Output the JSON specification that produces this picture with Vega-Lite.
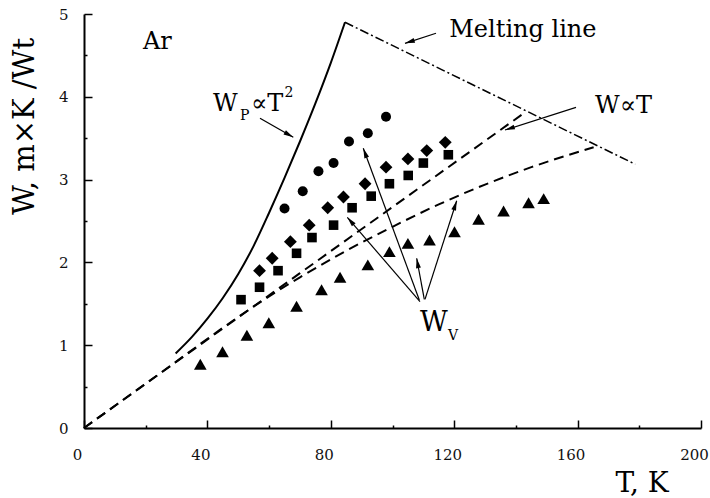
{
  "$schema": "https://vega.github.io/schema/vega-lite/v6.json",
  "width": 617,
  "height": 414,
  "autosize": {"type": "none"},
  "padding": {"left": 84, "top": 14, "right": 9, "bottom": 70},
  "config": {
    "view": {"stroke": null},
    "font": "DejaVu Serif",
    "axis": {
      "grid": false,
      "domainColor": "black",
      "domainWidth": 2,
      "tickColor": "black",
      "tickWidth": 1.5,
      "labelFont": "DejaVu Serif",
      "labelFontSize": 15,
      "labelColor": "#111111",
      "labelFlush": false,
      "labelOverlap": false,
      "labelBound": false,
      "titleFont": "DejaVu Serif",
      "titleFontWeight": "normal",
      "titleColor": "black"
    }
  },
  "resolve": {"axis": {"x": "independent", "y": "independent"}},
  "datasets": {
    "wp": [
      {"T": 29.7, "W": 0.90}, {"T": 35, "W": 1.10}, {"T": 40, "W": 1.32},
      {"T": 45, "W": 1.57}, {"T": 50, "W": 1.86}, {"T": 55, "W": 2.20},
      {"T": 60, "W": 2.60}, {"T": 65, "W": 3.02}, {"T": 70, "W": 3.46},
      {"T": 75, "W": 3.92}, {"T": 80, "W": 4.41}, {"T": 84.6, "W": 4.90}
    ],
    "lin": [
      {"T": 0, "W": 0}, {"T": 70, "W": 1.87}, {"T": 142.5, "W": 3.80}
    ],
    "bend": [
      {"T": 0, "W": 0}, {"T": 25, "W": 0.67}, {"T": 50, "W": 1.34},
      {"T": 60, "W": 1.59}, {"T": 70, "W": 1.82}, {"T": 85, "W": 2.14},
      {"T": 100, "W": 2.43}, {"T": 115, "W": 2.70}, {"T": 130, "W": 2.94},
      {"T": 145, "W": 3.15}, {"T": 165.2, "W": 3.39}
    ],
    "melt": [
      {"T": 84.6, "W": 4.90}, {"T": 178.7, "W": 3.185}
    ],
    "pts": [
      {"g": "c", "T": 65.0, "W": 2.65}, {"g": "c", "T": 70.9, "W": 2.86},
      {"g": "c", "T": 76.0, "W": 3.10}, {"g": "c", "T": 80.9, "W": 3.20},
      {"g": "c", "T": 85.9, "W": 3.46}, {"g": "c", "T": 92.0, "W": 3.56},
      {"g": "c", "T": 97.9, "W": 3.76},
      {"g": "d", "T": 56.9, "W": 1.90}, {"g": "d", "T": 61.0, "W": 2.05},
      {"g": "d", "T": 66.9, "W": 2.25}, {"g": "d", "T": 73.0, "W": 2.45},
      {"g": "d", "T": 79.0, "W": 2.66}, {"g": "d", "T": 84.1, "W": 2.79},
      {"g": "d", "T": 91.1, "W": 2.95}, {"g": "d", "T": 97.9, "W": 3.15},
      {"g": "d", "T": 105.0, "W": 3.25}, {"g": "d", "T": 111.1, "W": 3.35},
      {"g": "d", "T": 117.1, "W": 3.45},
      {"g": "s", "T": 50.9, "W": 1.55}, {"g": "s", "T": 56.9, "W": 1.70},
      {"g": "s", "T": 62.9, "W": 1.90}, {"g": "s", "T": 68.9, "W": 2.11},
      {"g": "s", "T": 73.9, "W": 2.30}, {"g": "s", "T": 80.9, "W": 2.45},
      {"g": "s", "T": 86.9, "W": 2.66}, {"g": "s", "T": 93.1, "W": 2.80},
      {"g": "s", "T": 99.0, "W": 2.95}, {"g": "s", "T": 105.1, "W": 3.05},
      {"g": "s", "T": 110.0, "W": 3.20}, {"g": "s", "T": 118.1, "W": 3.30},
      {"g": "t", "T": 37.7, "W": 0.77}, {"g": "t", "T": 44.9, "W": 0.92},
      {"g": "t", "T": 52.8, "W": 1.12}, {"g": "t", "T": 59.9, "W": 1.27},
      {"g": "t", "T": 68.9, "W": 1.47}, {"g": "t", "T": 77.0, "W": 1.67},
      {"g": "t", "T": 83.0, "W": 1.82}, {"g": "t", "T": 92.0, "W": 1.97},
      {"g": "t", "T": 99.0, "W": 2.13}, {"g": "t", "T": 105.0, "W": 2.23},
      {"g": "t", "T": 112.0, "W": 2.27}, {"g": "t", "T": 120.1, "W": 2.37},
      {"g": "t", "T": 127.9, "W": 2.52}, {"g": "t", "T": 136.0, "W": 2.62},
      {"g": "t", "T": 144.1, "W": 2.72}, {"g": "t", "T": 149.0, "W": 2.77}
    ],
    "arrows": [
      {"x0": 114.1, "y0": 4.767, "x1": 104.05, "y1": 4.646, "dir": 252.1},
      {"x0": 57.05, "y0": 3.740, "x1": 67.84, "y1": 3.511, "dir": 119.7},
      {"x0": 159.48, "y0": 3.873, "x1": 136.47, "y1": 3.599, "dir": 252.3},
      {"x0": 108.91, "y0": 1.525, "x1": 85.35, "y1": 2.545, "dir": 319.3},
      {"x0": 108.69, "y0": 1.546, "x1": 90.53, "y1": 3.378, "dir": 339.7},
      {"x0": 110.31, "y0": 1.554, "x1": 107.84, "y1": 2.050, "dir": 349.5},
      {"x0": 110.53, "y0": 1.554, "x1": 120.81, "y1": 2.745, "dir": 17.8}
    ],
    "notes": [
      {"t": "Ar", "x": 19.12, "y": 4.577},
      {"t": "Melting line", "x": 118.41, "y": 4.726},
      {"t": "W∝T", "x": 165.64, "y": 3.808},
      {"t": "W", "x": 41.82, "y": 3.829},
      {"t": "∝T", "x": 54.13, "y": 3.829}
    ],
    "subs": [
      {"t": "P", "x": 50.57, "y": 3.720},
      {"t": "2", "x": 65.0, "y": 3.998},
      {"t": "V", "x": 117.99, "y": 1.063}
    ],
    "wv": [
      {"t": "W", "x": 108.91, "y": 1.175}
    ]
  },
  "layer": [
    {
      "data": {"name": "wp"},
      "mark": {"type": "line", "color": "black", "strokeWidth": 2, "interpolate": "monotone"},
      "encoding": {
        "x": {
          "field": "T", "type": "quantitative",
          "scale": {"domain": [0, 200], "nice": false, "zero": false},
          "axis": {
            "orient": "bottom",
            "title": "T, K",
            "titleFontSize": 28,
            "titleAlign": "left",
            "titleBaseline": "alphabetic",
            "titleX": 531,
            "titleY": 63,
            "values": [0, 40, 80, 120, 160, 200],
            "tickSize": -8,
            "labelPadding": 27,
            "labelOffset": -7
          }
        },
        "y": {
          "field": "W", "type": "quantitative",
          "scale": {"domain": [0, 5], "nice": false, "zero": false},
          "axis": {
            "orient": "left",
            "title": "W, m×K /Wt",
            "titleFontSize": 29,
            "titleAngle": -90,
            "titleAlign": "center",
            "titleBaseline": "alphabetic",
            "titleX": -50.5,
            "titleY": 112,
            "values": [0, 1, 2, 3, 4, 5],
            "format": "d",
            "tickSize": -8,
            "labelPadding": 24
          }
        }
      }
    },
    {
      "data": {"name": "lin"},
      "mark": {"type": "line", "color": "black", "strokeWidth": 2, "strokeDash": [10, 6]},
      "encoding": {
        "x": {
          "field": "T", "type": "quantitative",
          "axis": {
            "orient": "bottom", "title": null, "labels": false, "domain": false,
            "values": [20, 60, 100, 140, 180], "tickSize": -3
          }
        },
        "y": {
          "field": "W", "type": "quantitative",
          "axis": {
            "orient": "left", "title": null, "labels": false, "domain": false,
            "values": [0.5, 1.5, 2.5, 3.5, 4.5], "tickSize": -3
          }
        }
      }
    },
    {
      "data": {"name": "bend"},
      "mark": {"type": "line", "color": "black", "strokeWidth": 2, "strokeDash": [10, 6], "interpolate": "monotone"},
      "encoding": {
        "x": {"field": "T", "type": "quantitative", "axis": null},
        "y": {"field": "W", "type": "quantitative", "axis": null}
      }
    },
    {
      "data": {"name": "melt"},
      "mark": {"type": "line", "color": "black", "strokeWidth": 1.5, "strokeDash": [9, 3, 2, 3]},
      "encoding": {
        "x": {"field": "T", "type": "quantitative", "axis": null},
        "y": {"field": "W", "type": "quantitative", "axis": null}
      }
    },
    {
      "data": {"name": "pts"},
      "transform": [{"filter": "datum.g === 'c'"}],
      "mark": {"type": "point", "shape": "circle", "size": 100, "filled": true, "color": "black", "opacity": 1},
      "encoding": {
        "x": {"field": "T", "type": "quantitative", "axis": null},
        "y": {"field": "W", "type": "quantitative", "axis": null}
      }
    },
    {
      "data": {"name": "pts"},
      "transform": [{"filter": "datum.g === 'd'"}],
      "mark": {"type": "point", "shape": "diamond", "size": 165, "filled": true, "color": "black", "opacity": 1},
      "encoding": {
        "x": {"field": "T", "type": "quantitative", "axis": null},
        "y": {"field": "W", "type": "quantitative", "axis": null}
      }
    },
    {
      "data": {"name": "pts"},
      "transform": [{"filter": "datum.g === 's'"}],
      "mark": {"type": "point", "shape": "square", "size": 92, "filled": true, "color": "black", "opacity": 1},
      "encoding": {
        "x": {"field": "T", "type": "quantitative", "axis": null},
        "y": {"field": "W", "type": "quantitative", "axis": null}
      }
    },
    {
      "data": {"name": "pts"},
      "transform": [{"filter": "datum.g === 't'"}],
      "mark": {"type": "point", "shape": "triangle-up", "size": 160, "filled": true, "color": "black", "opacity": 1},
      "encoding": {
        "x": {"field": "T", "type": "quantitative", "axis": null},
        "y": {"field": "W", "type": "quantitative", "axis": null}
      }
    },
    {
      "data": {"name": "arrows"},
      "mark": {"type": "rule", "color": "black", "strokeWidth": 1.2},
      "encoding": {
        "x": {"field": "x0", "type": "quantitative", "axis": null},
        "y": {"field": "y0", "type": "quantitative", "axis": null},
        "x2": {"field": "x1"},
        "y2": {"field": "y1"}
      }
    },
    {
      "data": {"name": "arrows"},
      "mark": {"type": "point", "filled": true, "color": "black", "opacity": 1, "size": 120,
               "shape": "M0,0L-0.45,1.8L0.45,1.8Z"},
      "encoding": {
        "x": {"field": "x1", "type": "quantitative", "axis": null},
        "y": {"field": "y1", "type": "quantitative", "axis": null},
        "angle": {"field": "dir", "type": "quantitative", "scale": null}
      }
    },
    {
      "data": {"name": "notes"},
      "mark": {"type": "text", "align": "left", "baseline": "alphabetic", "font": "DejaVu Serif", "fontSize": 24, "color": "black"},
      "encoding": {
        "x": {"field": "x", "type": "quantitative", "axis": null},
        "y": {"field": "y", "type": "quantitative", "axis": null},
        "text": {"field": "t"}
      }
    },
    {
      "data": {"name": "subs"},
      "mark": {"type": "text", "align": "left", "baseline": "alphabetic", "font": "DejaVu Serif", "fontSize": 14, "color": "black"},
      "encoding": {
        "x": {"field": "x", "type": "quantitative", "axis": null},
        "y": {"field": "y", "type": "quantitative", "axis": null},
        "text": {"field": "t"}
      }
    },
    {
      "data": {"name": "wv"},
      "mark": {"type": "text", "align": "left", "baseline": "alphabetic", "font": "DejaVu Serif", "fontSize": 27, "color": "black"},
      "encoding": {
        "x": {"field": "x", "type": "quantitative", "axis": null},
        "y": {"field": "y", "type": "quantitative", "axis": null},
        "text": {"field": "t"}
      }
    }
  ]
}
